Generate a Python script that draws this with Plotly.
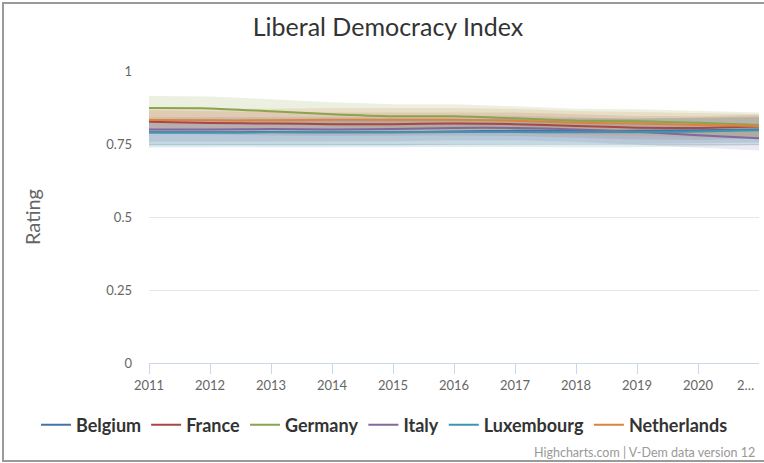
import plotly.graph_objects as go

years = [2011, 2012, 2013, 2014, 2015, 2016, 2017, 2018, 2019, 2020, 2021]
x_tick_labels = ["2011", "2012", "2013", "2014", "2015", "2016", "2017", "2018", "2019", "2020", "2…"]
y_tick_vals = [0, 0.25, 0.5, 0.75, 1]
y_tick_labels = ["0", "0.25", "0.5", "0.75", "1"]

countries = ["Belgium", "France", "Germany", "Italy", "Luxembourg", "Netherlands"]
colors = ["#4572A7", "#AA4643", "#89A54E", "#80699B", "#3D96AE", "#DB843D"]
band_colors = ["rgba(69,114,167,0.17)", "rgba(170,70,67,0.15)", "rgba(137,165,78,0.17)",
               "rgba(128,105,155,0.15)", "rgba(61,150,174,0.17)", "rgba(219,132,61,0.16)"]

belgium = [0.790, 0.790, 0.791, 0.790, 0.790, 0.793, 0.795, 0.795, 0.795, 0.797, 0.800]
belgium_low = [0.745, 0.745, 0.746, 0.745, 0.745, 0.748, 0.750, 0.750, 0.750, 0.752, 0.755]
belgium_high = [0.832, 0.832, 0.833, 0.832, 0.832, 0.835, 0.837, 0.837, 0.837, 0.839, 0.842]

france = [0.826, 0.822, 0.820, 0.818, 0.818, 0.820, 0.818, 0.812, 0.806, 0.805, 0.810]
france_low = [0.785, 0.781, 0.779, 0.777, 0.777, 0.779, 0.777, 0.771, 0.765, 0.764, 0.769]
france_high = [0.866, 0.862, 0.860, 0.858, 0.858, 0.860, 0.858, 0.852, 0.846, 0.845, 0.850]

germany = [0.873, 0.872, 0.862, 0.852, 0.845, 0.845, 0.838, 0.830, 0.828, 0.823, 0.815]
germany_low = [0.832, 0.831, 0.821, 0.811, 0.804, 0.804, 0.797, 0.789, 0.787, 0.782, 0.774]
germany_high = [0.914, 0.913, 0.903, 0.893, 0.886, 0.886, 0.879, 0.871, 0.869, 0.864, 0.858]

italy = [0.800, 0.800, 0.801, 0.800, 0.801, 0.805, 0.805, 0.800, 0.792, 0.780, 0.770]
italy_low = [0.758, 0.758, 0.759, 0.758, 0.759, 0.763, 0.763, 0.758, 0.750, 0.738, 0.728]
italy_high = [0.842, 0.842, 0.843, 0.842, 0.843, 0.847, 0.847, 0.842, 0.834, 0.822, 0.812]

luxembourg = [0.789, 0.789, 0.790, 0.790, 0.790, 0.791, 0.791, 0.790, 0.790, 0.793, 0.797]
luxembourg_low = [0.738, 0.738, 0.739, 0.739, 0.739, 0.740, 0.740, 0.739, 0.739, 0.742, 0.746]
luxembourg_high = [0.836, 0.836, 0.837, 0.837, 0.837, 0.838, 0.838, 0.837, 0.837, 0.840, 0.844]

netherlands = [0.832, 0.831, 0.831, 0.833, 0.833, 0.833, 0.830, 0.823, 0.820, 0.815, 0.812]
netherlands_low = [0.790, 0.789, 0.789, 0.791, 0.791, 0.791, 0.788, 0.781, 0.778, 0.773, 0.770]
netherlands_high = [0.872, 0.871, 0.871, 0.873, 0.873, 0.873, 0.870, 0.863, 0.860, 0.855, 0.852]

series = [
    (belgium, belgium_low, belgium_high),
    (france, france_low, france_high),
    (germany, germany_low, germany_high),
    (italy, italy_low, italy_high),
    (luxembourg, luxembourg_low, luxembourg_high),
    (netherlands, netherlands_low, netherlands_high),
]

FONT = "Lato, 'Open Sans', sans-serif"

fig = go.Figure()

# confidence ranges behind the lines
for name, band, (vals, low, high) in zip(countries, band_colors, series):
    fig.add_trace(go.Scatter(
        x=years + years[::-1], y=high + low[::-1],
        fill="toself", fillcolor=band, line=dict(width=0),
        mode="lines", hoverinfo="skip", showlegend=False, legendgroup=name,
    ))

for name, color, (vals, low, high) in zip(countries, colors, series):
    fig.add_trace(go.Scatter(
        x=years, y=vals, name=name, mode="lines",
        line=dict(color=color, width=2, shape="spline", smoothing=0.6),
        legendgroup=name,
    ))

L, R, T, B = 149, 5, 71, 100
W, H = 764, 463
pw, ph = W - L - R, H - T - B

def px_x(p):
    return (p - L) / pw

def px_y(p):
    return (H - B - p) / ph

fig.update_layout(
    width=W, height=H,
    margin=dict(l=L, r=R, t=T, b=B, autoexpand=False),
    paper_bgcolor="white", plot_bgcolor="white",
    font=dict(family=FONT, color="#666666"),
    title=dict(text="Liberal Democracy Index", x=388 / W, xref="container", xanchor="center",
               y=1 - 27 / H, yref="container", yanchor="middle",
               font=dict(size=25, color="#333333", family=FONT)),
    xaxis=dict(
        range=[2011, 2021], tickmode="array", tickvals=years[:-1],
        ticktext=x_tick_labels[:-1],
        showgrid=False, zeroline=False,
        showline=True, linecolor="#ccd6eb", linewidth=1,
        ticks="outside", ticklen=10, tickcolor="#ccd6eb",
        tickfont=dict(size=13, color="#666666", family=FONT),
        fixedrange=True,
    ),
    yaxis=dict(
        range=[0, 1], tickmode="array", tickvals=y_tick_vals, ticktext=y_tick_labels,
        showgrid=True, gridcolor="#e6e6e6", gridwidth=1, zeroline=False,
        showline=False, ticks="", ticklabelstandoff=16,
        tickfont=dict(size=13, color="#666666", family=FONT),
        title=dict(text="Rating", standoff=60, font=dict(size=20, color="#666666", family=FONT)),
        fixedrange=True,
    ),
    legend=dict(
        orientation="h", x=px_x(36), xanchor="left",
        y=px_y(425), yanchor="middle",
        font=dict(size=18, color="#333333", family="Lato, sans-serif", weight="bold"),
        tracegroupgap=0,
    ),
    showlegend=True,
)

# truncated label at the last year
fig.add_annotation(x=2021, y=0, xref="x", yref="y", text="2…", showarrow=False,
                   xanchor="right", yanchor="top", yshift=-12, xshift=-2,
                   font=dict(size=13, color="#666666", family=FONT))

fig.add_annotation(x=px_x(757), y=px_y(452), xref="paper", yref="paper",
                   text="Highcharts.com | V-Dem data version 12", showarrow=False,
                   xanchor="right", yanchor="middle",
                   font=dict(size=12.5, color="#999999", family=FONT))

# outer frame
fig.add_shape(type="rect", xref="paper", yref="paper",
              x0=px_x(3), x1=px_x(766), y0=px_y(461), y1=px_y(3),
              line=dict(color="#9a9a9a", width=2), fillcolor="rgba(0,0,0,0)", layer="above")

fig.write_html("out.html")
